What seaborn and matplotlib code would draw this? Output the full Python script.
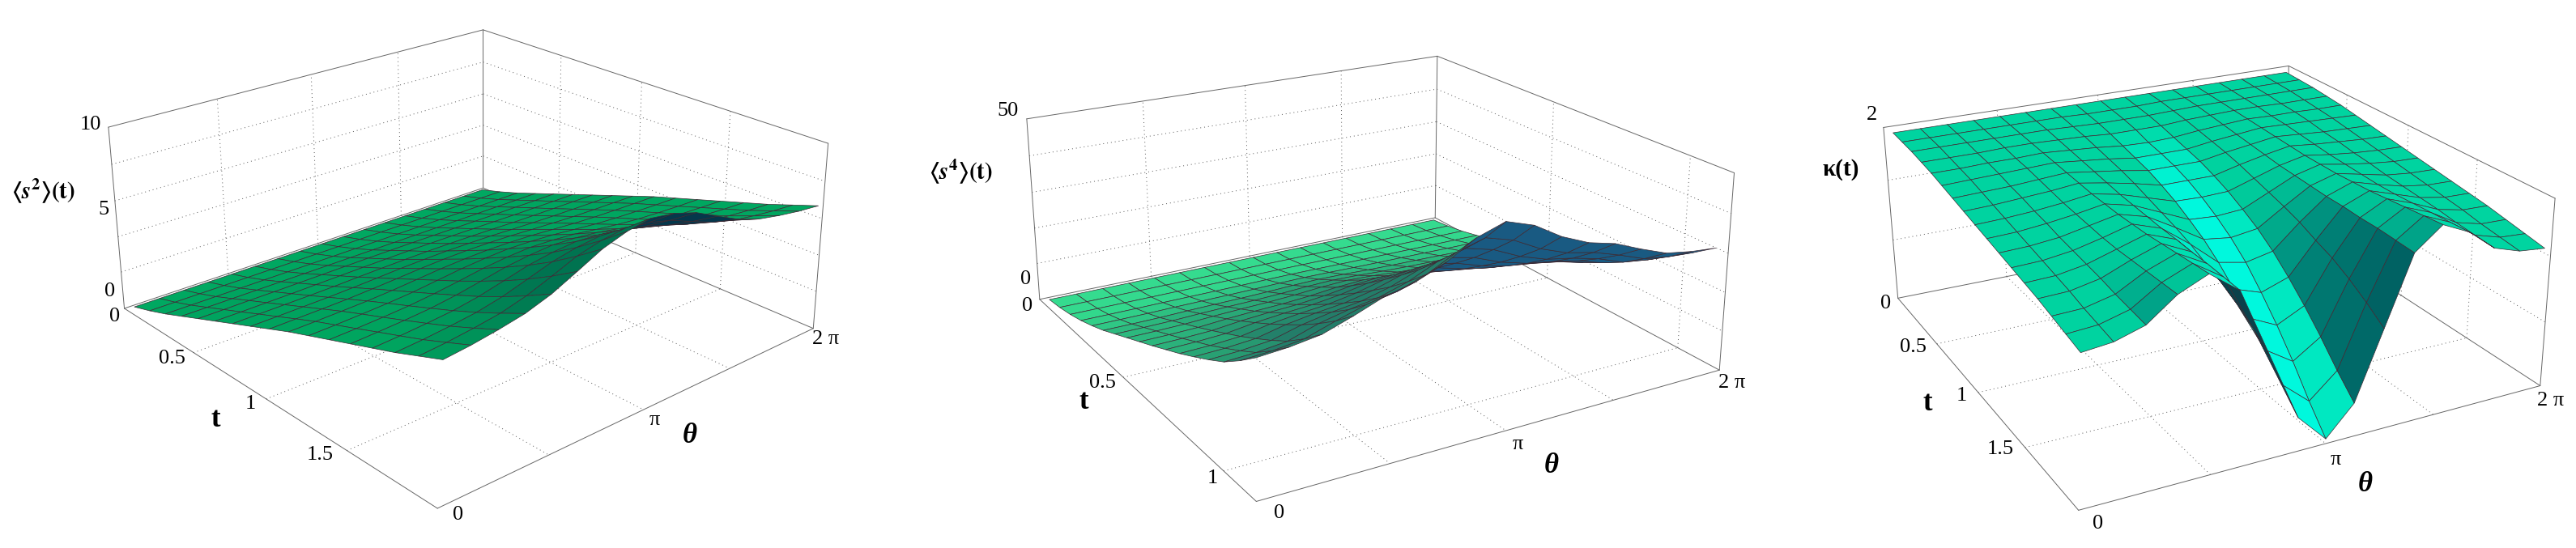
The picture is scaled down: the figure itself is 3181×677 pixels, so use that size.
import numpy as np
import matplotlib
matplotlib.use("Agg")
import matplotlib.pyplot as plt
import seaborn as sns
from mpl_toolkits.mplot3d import Axes3D  # noqa

# ---------- values (theta = 0 ... pi, mirrored about pi) ----------
theta_half = [0, np.pi/8, np.pi/4, 3*np.pi/8, np.pi/2, 5*np.pi/8, 3*np.pi/4, 7*np.pi/8, np.pi]

s2_rows = [
 [0,0,0,0,0,0,0,0,0],
 [.35,.35,.35,.35,.35,.35,.35,.35,.35],
 [.75,.75,.75,.75,.75,.75,.75,.75,.75],
 [1.2,1.2,1.2,1.2,1.2,1.2,1.2,1.2,1.2],
 [1.65,1.65,1.66,1.66,1.67,1.68,1.69,1.7,1.7],
 [2.1,2.1,2.11,2.12,2.14,2.16,2.18,2.19,2.2],
 [2.55,2.56,2.57,2.58,2.6,2.64,2.67,2.69,2.7],
 [3,3.01,3.03,3.05,3.09,3.14,3.2,3.23,3.25],
 [3.45,3.47,3.49,3.52,3.58,3.65,3.73,3.78,3.8],
 [3.9,3.92,3.95,3.99,4.06,4.16,4.26,4.32,4.35],
 [4.3,4.33,4.38,4.44,4.53,4.67,4.81,4.9,4.95],
 [4.7,4.74,4.8,4.88,5.01,5.18,5.37,5.49,5.55],
 [5.1,5.16,5.23,5.33,5.5,5.73,5.97,6.12,6.2],
 [5.5,5.57,5.67,5.79,6,6.3,6.61,6.8,6.9],
 [5.9,5.99,6.12,6.28,6.55,6.93,7.32,7.57,7.7],
 [6.35,6.46,6.62,6.82,7.16,7.63,8.13,8.44,8.6],
 [6.8,6.94,7.14,7.39,7.81,8.4,9.01,9.4,9.6],
]
s4_rows = [
 [0,0,0,0,0,0,0,0,0],
 [.5,.5,.5,.5,.5,.5,.5,.5,.5],
 [1.3,1.3,1.31,1.33,1.34,1.35,1.36,1.39,1.4],
 [2.4,2.41,2.43,2.48,2.52,2.54,2.59,2.66,2.7],
 [3.8,3.82,3.86,3.96,4.03,4.09,4.18,4.32,4.4],
 [5.4,5.43,5.5,5.7,5.83,5.93,6.1,6.36,6.5],
 [7.3,7.35,7.45,7.73,7.92,8.07,8.32,8.69,8.9],
 [9.2,9.27,9.42,9.82,10.1,10.3,10.67,11.2,11.5],
 [11.1,11.19,11.39,11.94,12.31,12.59,13.08,13.8,14.2],
 [13,13.14,13.43,14.22,14.76,15.16,15.88,16.92,17.5],
 [15,15.18,15.57,16.62,17.34,17.88,18.84,20.22,21],
 [17,17.23,17.74,19.11,20.04,20.74,21.99,23.79,24.8],
 [19.2,19.49,20.11,21.79,22.94,23.81,25.34,27.55,28.8],
 [21.5,21.85,22.59,24.61,25.99,27.02,28.86,31.51,33],
 [24,24.41,25.31,27.73,29.38,30.62,32.83,36,37.8],
 [27.3,27.77,28.77,31.2,33.35,34.74,37.22,40.79,42.8],
 [31,31.6,32.7,35.2,38,39.7,42.6,46.7,49],
]
kappa_cols = [
 [1.95,1.94,1.93,1.91,1.89,1.86,1.83,1.8,1.77,1.74,1.71,1.68,1.65,1.62,1.58,1.54,1.5],
 [1.95,1.94,1.93,1.91,1.89,1.87,1.84,1.81,1.78,1.75,1.72,1.69,1.66,1.63,1.59,1.56,1.53],
 [1.95,1.94,1.93,1.91,1.90,1.88,1.85,1.83,1.80,1.78,1.75,1.73,1.71,1.69,1.66,1.64,1.62],
 [1.95,1.94,1.93,1.92,1.90,1.89,1.87,1.85,1.83,1.82,1.81,1.80,1.80,1.81,1.82,1.83,1.84],
 [1.95,1.94,1.93,1.92,1.91,1.90,1.89,1.88,1.87,1.87,1.87,1.88,1.89,1.91,1.93,1.95,1.97],
 [1.95,1.94,1.93,1.91,1.89,1.87,1.85,1.83,1.81,1.8,1.79,1.78,1.78,1.77,1.77,1.76,1.75],
 [1.95,1.94,1.92,1.9,1.87,1.84,1.81,1.77,1.72,1.67,1.62,1.56,1.48,1.41,1.31,1.19,1.05],
 [1.95,1.93,1.91,1.88,1.84,1.8,1.76,1.7,1.63,1.54,1.44,1.31,1.15,.97,.77,.55,.35],
 [1.95,1.93,1.91,1.88,1.83,1.8,1.76,1.7,1.62,1.52,1.40,1.25,1.05,.83,.58,.3,.05],
]
t_end = [2.0, 1.12, 2.0]
t_ticks = [[0.5, 1, 1.5], [0.5, 1], [0.5, 1, 1.5]]
z_grid = [[2, 4, 6, 8], [10, 20, 30, 40], [0.7, 1.4]]
theta_grid = [np.pi/2, np.pi, 3*np.pi/2]

sns.set_theme(style="white")
plt.rcParams["font.family"] = ["Liberation Serif", "DejaVu Serif"]
plt.rcParams["mathtext.fontset"] = "stix"

W, H = 3181, 677
fig = plt.figure(figsize=(W/100, H/100), dpi=100, facecolor="white")

def rgb(*c):
    return tuple(v/255 for v in c)

panels = [
 dict(x0=0, sx=1060/1560, left_px=80,
      lims=((-.1, 2*np.pi+.1), (-.03, 2.0), (-.1, 10)),
      corners=dict(bt=(878,85), bb=(878,535), lt=(197,362), lb=(226,878),
                   rt=(1505,408), rb=(1478,935), fb=(795,1447)),
      data=np.array(s2_rows), light=(.35,.45,.82), srange=(.2,.7), crease=False,
      cmap=[rgb(0,115,80), rgb(0,135,85), rgb(0,165,95), rgb(0,172,100)],
      under=rgb(5,55,75),
      labels=[("10",165,355),("5",188,597),("0",200,830),("0",208,900),
              ("0.5",312,1020),("1",455,1150),("1.5",582,1295),
              ("0",833,1465),("π",1190,1195),("2 π",1500,965)],
      tlab=(392,1195), thlab=(1253,1242), zlab=(78,545),
      zname=r"$\mathbf{\langle}\mathbfit{s}^{\mathbf{2}}\mathbf{\rangle}\mathbf{(t)}$"),
 dict(x0=1100, sx=1060/1560, left_px=1200,
      lims=((-.1, 2*np.pi+.1), (-.02, 1.14), (-.3, 50)),
      corners=dict(bt=(993,160), bb=(990,620), lt=(247,340), lb=(270,850),
                   rt=(1533,490), rb=(1505,1055), fb=(665,1428)),
      data=np.array(s4_rows), light=(.35,.45,.82), srange=(.3,.85), crease=False,
      cmap=[rgb(35,125,105), rgb(40,160,115), rgb(50,215,140), rgb(55,222,145)],
      under=rgb(25,90,130),
      labels=[("50",212,315),("0",245,795),("0",248,872),("0.5",385,1090),
              ("1",585,1362),("0",706,1462),("π",1140,1265),("2 π",1528,1090)],
      tlab=(350,1145), thlab=(1200,1325), zlab=(128,490),
      zname=r"$\mathbf{\langle}\mathbfit{s}^{\mathbf{4}}\mathbf{\rangle}\mathbf{(t)}$"),
 dict(x0=2180, sx=1000/1560, left_px=2240,
      lims=((-.1, 2*np.pi+.1), (-.03, 2.0), (0, 2)),
      corners=dict(bt=(1007,188), bb=(1005,628), lt=(228,362), lb=(255,850),
                   rt=(1522,565), rb=(1492,1098), fb=(603,1452)),
      data=np.array(kappa_cols).T, light=None, srange=None, crease=True,
      cmap=[rgb(0,80,88), rgb(0,140,125), rgb(0,212,160), rgb(0,240,205), rgb(0,255,235)],
      under=rgb(10,65,75),
      labels=[("2",205,327),("0",232,865),("0.5",285,988),("1",378,1127),
              ("1.5",452,1278),("0",640,1492),("π",1098,1308),("2 π",1512,1140)],
      tlab=(312,1148), thlab=(1155,1378), zlab=(145,483),
      zname="κ(t)"),
]

Y_SCALE = 677/1560
SIDE = 1000
MESH = rgb(62,42,52)
EDGE = "#666666"
GRID = "#555555"

def fit_box(corner_px):
    """Least-squares camera from the box corners: unit box -> display pixels."""
    unit = dict(lb=(0,0,0), fb=(0,1,0), rb=(1,1,0), bb=(1,0,0),
                lt=(0,0,1), rt=(1,1,1), bt=(1,0,1))
    rows = []
    for k, (u, v) in corner_px.items():
        X = np.array(list(unit[k]) + [1.0])
        u, v = (u-1590)/1000, (v-338)/1000
        rows.append(np.r_[X, np.zeros(4), -u*X])
        rows.append(np.r_[np.zeros(4), X, -v*X])
    _, _, vt = np.linalg.svd(np.array(rows))
    P = vt[-1].reshape(3, 4)
    if (P[2] @ np.array([.5,.5,.5,1])) < 0:
        P = -P
    N = np.array([[1000,0,1590],[0,1000,338],[0,0,1.0]])
    return N @ P

for i, p in enumerate(panels):
    ax = fig.add_axes([p["left_px"]/W, (H-SIDE)/2/H, SIDE/W, SIDE/H],
                      projection="3d", computed_zorder=False)
    ax.set_axis_off()
    ax.patch.set_visible(False)
    ax.apply_aspect()

    (x0, x1), (y0, y1), (z0, z1) = p["lims"]
    S = np.array([[1/(x1-x0),0,0,-x0/(x1-x0)],
                  [0,1/(y1-y0),0,-y0/(y1-y0)],
                  [0,0,1/(z1-z0),-z0/(z1-z0)],
                  [0,0,0,1.0]])
    cpx = {k: (p["x0"]+v[0]*p["sx"], H-v[1]*Y_SCALE) for k, v in p["corners"].items()}
    Pdisp = fit_box(cpx) @ S
    T = ax.transData.inverted().get_matrix()
    Pview = T @ Pdisp
    M = np.vstack([Pview[0], Pview[1], [0,0,0,-1.0], Pview[2]])
    ax.get_proj = (lambda m: (lambda: m))(M)
    ax.M = M

    _, _, vt = np.linalg.svd(Pdisp)
    C = vt[-1]; C = C[:3]/C[3]

    half = p["data"]
    Z = np.hstack([half, half[:, -2::-1]])
    th = np.r_[theta_half, [2*np.pi - a for a in theta_half[-2::-1]]]
    tt = np.linspace(0, t_end[i], Z.shape[0])
    TH, TT = np.meshgrid(th, tt)

    cmap = sns.blend_palette(p["cmap"], as_cmap=True)
    scale = np.array([1/(x1-x0), 1/(y1-y0), 0.7/(z1-z0)])
    fc = np.zeros((Z.shape[0]-1, Z.shape[1]-1, 4))
    for r in range(fc.shape[0]):
        for c in range(fc.shape[1]):
            A = np.array([TH[r,c], TT[r,c], Z[r,c]])
            B = np.array([TH[r,c+1], TT[r,c+1], Z[r,c+1]])
            D = np.array([TH[r+1,c+1], TT[r+1,c+1], Z[r+1,c+1]])
            E = np.array([TH[r+1,c], TT[r+1,c], Z[r+1,c]])
            n = np.cross(D-A, E-B)
            cen = (A+B+D+E)/4
            if n[2] < 0:
                n = -n
            if n @ (C-cen) < 0:
                fc[r,c] = p["under"] + (1,)
                continue
            nn = np.cross((D-A)*scale, (E-B)*scale)
            if nn[2] < 0:
                nn = -nn
            nn = nn/np.linalg.norm(nn)
            if p["crease"]:
                s = 0.5 + 0.5*np.sign(nn[0])*abs(nn[0])**4
                if c in (7, 8) and r >= 3:
                    ramp = 0.5 + (r-2)*0.07
                    s = min(ramp, 0.88 if c == 7 else 0.68)
            else:
                L = np.array(p["light"]); L = L/np.linalg.norm(L)
                s = (nn @ L - p["srange"][0])/(p["srange"][1]-p["srange"][0])
            fc[r,c] = cmap(float(np.clip(s, 0, 1)))

    def seg(a, b, **kw):
        ax.plot([a[0],b[0]], [a[1],b[1]], [a[2],b[2]], **kw)

    gkw = dict(color=GRID, lw=0.7, ls=(0,(1,4)), zorder=1)
    for a in theta_grid:
        seg((a,y0,z0),(a,y1,z0),**gkw)
        seg((a,y0,z0),(a,y0,z1),**gkw)
    for b in t_ticks[i]:
        seg((x0,b,z0),(x1,b,z0),**gkw)
        seg((x1,b,z0),(x1,b,z1),**gkw)
    for c in z_grid[i]:
        seg((x0,y0,c),(x1,y0,c),**gkw)
        seg((x1,y0,c),(x1,y1,c),**gkw)

    ekw = dict(color=EDGE, lw=0.7, zorder=1)
    seg((x0,y0,z0),(x1,y0,z0),**ekw); seg((x1,y0,z0),(x1,y1,z0),**ekw)
    seg((x0,y0,z0),(x0,y1,z0),**ekw); seg((x0,y1,z0),(x1,y1,z0),**ekw)
    seg((x0,y0,z1),(x1,y0,z1),**ekw); seg((x1,y0,z1),(x1,y1,z1),**ekw)
    seg((x0,y0,z0),(x0,y0,z1),**ekw); seg((x1,y0,z0),(x1,y0,z1),**ekw)
    seg((x1,y1,z0),(x1,y1,z1),**ekw)

    surf = ax.plot_surface(TH, TT, Z, facecolors=fc, shade=False, linewidth=0.5,
                           antialiased=True, zorder=2)
    surf.set_edgecolor(MESH + (1,))

    def put(s, zx, zy, **kw):
        fig.text((p["x0"]+zx*p["sx"])/W, 1-zy*Y_SCALE/H, s, ha="center", va="center", color="black", **kw)

    for s, zx, zy in p["labels"]:
        put(s, zx, zy, fontsize=19)
    put("t", *p["tlab"], fontsize=25, fontweight="bold")
    put("θ", *p["thlab"], fontsize=25, fontweight="bold", fontstyle="italic")
    put(p["zname"], *p["zlab"], fontsize=21, fontweight="bold")

fig.savefig("out.png", dpi=100, facecolor="white")
